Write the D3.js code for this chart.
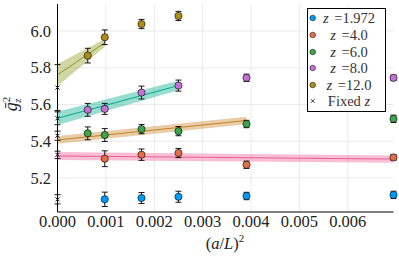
<html>
<script src="https://d3js.org/d3.v7.min.js"></script>
<body style="margin:0; background:white;">
<div id="chart_area"></div>
<script>
// a/L squared for L = 40, 32, 24, 20, 16, 12
let xs = [1/1600, 1/1024, 1/576, 1/400, 1/256, 1/144];

// series (z value, colour, point values, errors), x index per point
let labels = ["z =1.972", "z =4.0", "z =6.0", "z =8.0", "z =12.0"];
let colors = ["#009AFA", "#E36F47", "#3EA44E", "#C371D2", "#AC8E18"];
let fitColors = [null, "#ED5E93", "#C68225", "#00A98D", "#8E971D"];

let idx1972 = [1, 2, 3, 4, 5];
let val1972 = [5.084, 5.091, 5.098, 5.102, 5.108];
let err1972 = [0.039, 0.03, 0.03, 0.02, 0.02];

let idx4 = [1, 2, 3, 4, 5];
let val4 = [5.305, 5.327, 5.336, 5.272, 5.312];
let err4 = [0.043, 0.031, 0.025, 0.02, 0.015];

let idx6 = [0, 1, 2, 3, 4, 5];
let val6 = [5.443, 5.434, 5.466, 5.455, 5.494, 5.522];
let err6 = [0.035, 0.035, 0.025, 0.025, 0.02, 0.02];

let idx8 = [0, 1, 2, 3, 4, 5];
let val8 = [5.571, 5.576, 5.665, 5.703, 5.745, 5.745];
let err8 = [0.035, 0.03, 0.035, 0.03, 0.02, 0.015];

let idx12 = [0, 1, 2, 3];
let val12 = [5.866, 5.966, 6.038, 6.082];
let err12 = [0.04, 0.04, 0.025, 0.025];

// fixed z extrapolations at (a/L)^2 = 0
let fixedVal = [5.084, 5.326, 5.43, 5.525, 5.692];
let fixedErr = [0.025, 0.02, 0.025, 0.035, 0.125];

// linear fits: [x0, x1], [y0, y1], band half-width at each end
let fitX = [null, [0, 1/144], [0, 1/256], [0, 1/400], [0, 1/1024]];
let fitY = [null, [5.32, 5.303], [5.407, 5.513], [5.525, 5.703], [5.761, 5.936]];
let fitW = [null, [0.022, 0.02], [0.021, 0.02], [0.036, 0.026], [0.06, 0.021]];

let xTicks = [0, 0.001, 0.002, 0.003, 0.004, 0.005, 0.006];
let yTicks = [5.2, 5.4, 5.6, 5.8, 6.0];

let series = [
    {idx: idx1972, val: val1972, err: err1972},
    {idx: idx4, val: val4, err: err4},
    {idx: idx6, val: val6, err: err6},
    {idx: idx8, val: val8, err: err8},
    {idx: idx12, val: val12, err: err12}
];

let width = 399, height = 260;
let svg = d3.select("#chart_area").append("svg")
    .attr("width", width).attr("height", height)
    .style("font-family", "'Liberation Serif', serif");

let x = d3.scaleLinear().domain([0, 1/144]).range([57.5, 393.5]);
let y = d3.scaleLinear().domain([5.015, 6.147]).range([212, 4]);

// grid
svg.selectAll(".xgrid").data(xTicks).join("line")
    .attr("x1", d => x(d)).attr("x2", d => x(d))
    .attr("y1", y.range()[0]).attr("y2", y.range()[1])
    .attr("stroke", "#e6e6e6").attr("stroke-width", 0.8);
svg.selectAll(".ygrid").data(yTicks).join("line")
    .attr("x1", x.range()[0]).attr("x2", x.range()[1])
    .attr("y1", d => y(d)).attr("y2", d => y(d))
    .attr("stroke", "#e6e6e6").attr("stroke-width", 0.8);

// fit bands + lines
let line = d3.line().x(d => x(d[0])).y(d => y(d[1]));
for (let s = 1; s < 5; s++) {
    let fx = fitX[s], fy = fitY[s], fw = fitW[s];
    let band = [[fx[0], fy[0] + fw[0]], [fx[1], fy[1] + fw[1]], [fx[1], fy[1] - fw[1]], [fx[0], fy[0] - fw[0]]];
    svg.append("path").attr("d", line(band) + "Z")
        .attr("fill", fitColors[s]).attr("fill-opacity", 0.4).attr("stroke", "none");
    svg.append("path").attr("d", line([[fx[0], fy[0]], [fx[1], fy[1]]]))
        .attr("fill", "none").attr("stroke", fitColors[s]).attr("stroke-width", 1);
}

// axes lines
svg.append("line").attr("x1", x.range()[0]).attr("x2", x.range()[0])
    .attr("y1", y.range()[0]).attr("y2", y.range()[1]).attr("stroke", "black").attr("stroke-width", 1);
svg.append("line").attr("x1", x.range()[0]).attr("x2", x.range()[1])
    .attr("y1", y.range()[0]).attr("y2", y.range()[0]).attr("stroke", "black").attr("stroke-width", 1);

function errorBar(g, cx, v, e) {
    let cap = 3;
    g.append("line").attr("x1", cx).attr("x2", cx).attr("y1", y(v - e)).attr("y2", y(v + e))
        .attr("stroke", "black").attr("stroke-width", 0.9);
    [v - e, v + e].forEach(yy => {
        g.append("line").attr("x1", cx - cap).attr("x2", cx + cap).attr("y1", y(yy)).attr("y2", y(yy))
            .attr("stroke", "black").attr("stroke-width", 0.9);
    });
}

// fixed z
let fixedG = svg.append("g");
fixedVal.forEach((v, i) => {
    errorBar(fixedG, x(0), v, fixedErr[i]);
    let cx = x(0), cy = y(v), r = 2;
    fixedG.append("path").attr("d", `M${cx-r},${cy-r}L${cx+r},${cy+r}M${cx-r},${cy+r}L${cx+r},${cy-r}`)
        .attr("stroke", "black").attr("stroke-width", 1);
});

// data points
series.forEach((s, si) => {
    let g = svg.append("g");
    s.idx.forEach((k, j) => errorBar(g, x(xs[k]), s.val[j], s.err[j]));
    g.selectAll("circle").data(s.idx).join("circle")
        .attr("cx", k => x(xs[k]))
        .attr("cy", (k, j) => y(s.val[j]))
        .attr("r", 3.6)
        .attr("fill", colors[si]).attr("stroke", "black").attr("stroke-width", 0.6);
});

// tick labels
svg.selectAll(".xtl").data(xTicks).join("text")
    .attr("x", d => x(d)).attr("y", 227)
    .attr("text-anchor", "middle").attr("font-size", 16.5).attr("fill", "#222")
    .text(d => d3.format(".3f")(d));
svg.selectAll(".ytl").data(yTicks).join("text")
    .attr("x", 51).attr("y", d => y(d) + 5.5)
    .attr("text-anchor", "end").attr("font-size", 16.5).attr("fill", "#222")
    .text(d => d3.format(".1f")(d));

// axis labels
let xl = svg.append("text").attr("x", 225).attr("y", 249)
    .attr("text-anchor", "middle").attr("font-size", 16.5).attr("fill", "#222");
xl.append("tspan").text("(");
xl.append("tspan").attr("font-style", "italic").text("a");
xl.append("tspan").text("/");
xl.append("tspan").attr("font-style", "italic").text("L");
xl.append("tspan").text(")");
xl.append("tspan").attr("font-size", 11).attr("dy", -7).text("2");

let yl = svg.append("text").attr("transform", "translate(17,104) rotate(-90)")
    .attr("text-anchor", "middle").attr("font-size", 18).attr("fill", "#222");
yl.append("tspan").attr("font-style", "italic").text("ḡ");
yl.append("tspan").attr("font-size", 11).attr("dy", -7).text("2");
yl.append("tspan").attr("font-size", 11).attr("font-style", "italic").attr("dx", -6).attr("dy", 11).text("z");

// legend
let lg = svg.append("g");
lg.append("rect").attr("x", 307.5).attr("y", 8.5).attr("width", 78).attr("height", 103)
    .attr("fill", "white").attr("stroke", "black").attr("stroke-width", 1);
let legY = [18, 35, 52, 68, 85, 101];
labels.forEach((lab, i) => {
    lg.append("circle").attr("cx", 312.7).attr("cy", legY[i]).attr("r", 2.8)
        .attr("fill", colors[i]).attr("stroke", "black").attr("stroke-width", 0.5);
    let t = lg.append("text").attr("x", 349).attr("y", legY[i] + 5)
        .attr("text-anchor", "middle").attr("font-size", 14.5).attr("fill", "#333");
    t.append("tspan").attr("font-style", "italic").text("z");
    t.append("tspan").attr("dx", 2).text(" " + lab.slice(2));
});
{
    let cx = 312.7, cy = legY[5], r = 1.8;
    lg.append("path").attr("d", `M${cx-r},${cy-r}L${cx+r},${cy+r}M${cx-r},${cy+r}L${cx+r},${cy-r}`)
        .attr("stroke", "black").attr("stroke-width", 0.8);
    let t = lg.append("text").attr("x", 349).attr("y", legY[5] + 5)
        .attr("text-anchor", "middle").attr("font-size", 14.5).attr("fill", "#333");
    t.append("tspan").text("Fixed ");
    t.append("tspan").attr("font-style", "italic").text("z");
}
</script>
</body>
</html>
